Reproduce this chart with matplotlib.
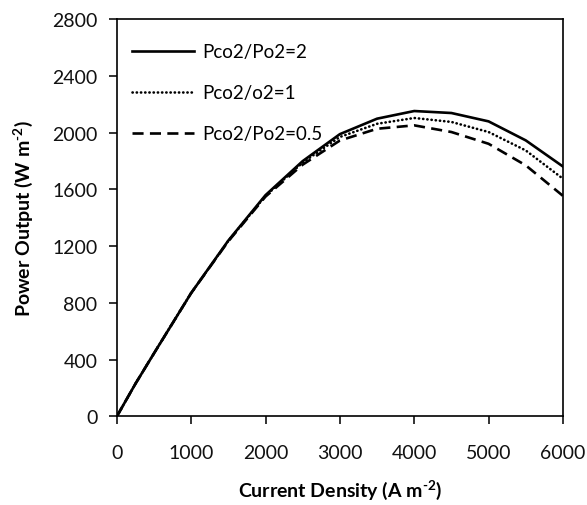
import numpy as np
import matplotlib
matplotlib.use("Agg")
import matplotlib.pyplot as plt

plt.rcParams['font.family'] = ['Lato', 'DejaVu Sans']
plt.rcParams['mathtext.fontset'] = 'custom'
plt.rcParams['mathtext.rm'] = 'Lato:bold'
plt.rcParams['mathtext.it'] = 'Lato:italic'
plt.rcParams['mathtext.bf'] = 'Lato:bold'

densidad = [0, 250, 500, 1000, 1500, 2000, 2500, 3000, 3500, 4000, 4500, 5000, 5500, 6000]
potencia_2 = [0, 230, 445, 870, 1240, 1560, 1800, 1990, 2099, 2153, 2139, 2080, 1946, 1762]
potencia_1 = [0, 230, 445, 870, 1238, 1555, 1790, 1970, 2063, 2104, 2076, 2005, 1875, 1676]
potencia_05 = [0, 230, 445, 870, 1235, 1550, 1775, 1945, 2028, 2052, 2005, 1922, 1770, 1555]
etiquetas = ["Pco2/Po2=2", "Pco2/o2=1", "Pco2/Po2=0.5"]

fig = plt.figure(figsize=(5.87, 5.06), dpi=100)
ax = fig.add_axes([0.199, 0.175, 0.76, 0.785])

ax.plot(densidad, potencia_2, color='black', lw=1.9, ls='-', label=etiquetas[0])
ax.plot(densidad, potencia_1, color='black', lw=1.9, ls=(0, (0.1, 1.5)),
        dash_capstyle='round', label=etiquetas[1])
ax.plot(densidad, potencia_05, color='black', lw=1.9, ls=(0, (4.2, 2.4)), label=etiquetas[2])

ax.set_xlim(0, 6000)
ax.set_ylim(0, 2800)
ax.set_xticks(range(0, 6001, 1000))
ax.set_yticks(range(0, 2801, 400))
ax.tick_params(direction='out', length=6, width=1.2, labelsize=14, pad=8, colors='#111111')
ax.tick_params(axis='x', pad=14)
for s in ax.spines.values():
    s.set_linewidth(1.2)

ax.set_xlabel(r"Current Density (A m$^{\text{-2}}$)", fontsize=14, fontweight='bold', labelpad=12)
ax.set_ylabel(r"Power Output (W m$^{\text{-2}}$)", fontsize=14, fontweight='bold', labelpad=12)

ax.legend(loc='upper left', bbox_to_anchor=(0.035, 0.94), frameon=False, fontsize=13.5,
          handlelength=3.3, handletextpad=0.4, labelspacing=1.29, borderaxespad=0, borderpad=0)

fig.savefig("out.png", dpi=100)
